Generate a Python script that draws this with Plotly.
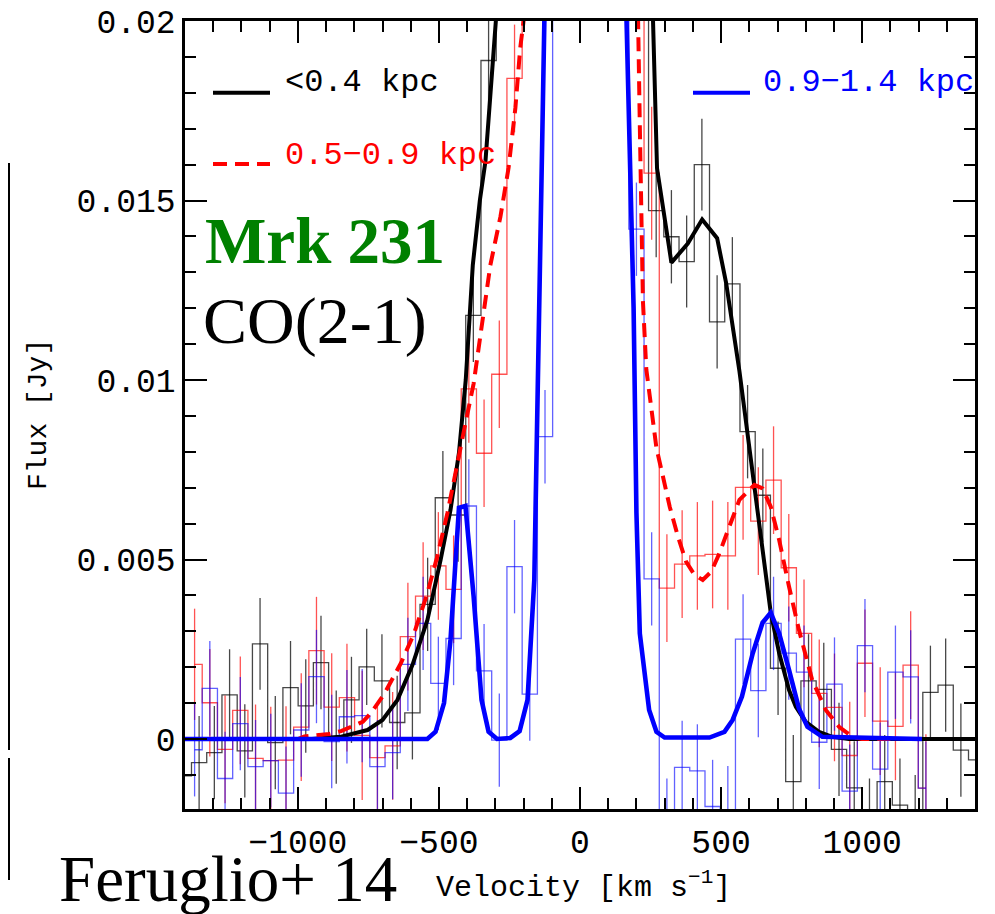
import plotly.graph_objects as go

# ---------------- data (velocity in km/s, flux in mJy) ----------------
vel_black = [-1404, -1350, -1296, -1242, -1188, -1134, -1080, -1026, -972, -918, -864, -810,
             -756, -702, -648, -594, -540, -486, -432, -378, -324, -270, -216, -162, -108, -54,
             0, 54, 108, 162, 216, 270, 324, 378, 432, 486, 540, 594, 648, 702, 756, 810, 864,
             918, 972, 1026, 1080, 1134, 1188, 1242, 1296, 1350, 1404]
flux_black = [-1.03, -0.66, -0.38, 1.23, -0.33, 2.65, -0.10, 1.43, 0.92, 2.13, 0.05, 1.09,
              2.01, 1.62, 0.46, 0.73, 3.75, 6.72, 6.24, 11.8, 18.9, 25.0, 34.0, 44.0, 52.0, 57.0,
              59.0, 56.0, 49.0, 39.0, 27.0, 14.72, 13.99, 13.3, 16.0, 11.62, 12.68, 8.56, 6.79,
              1.97, -1.19, 1.62, 1.38, -0.29, -1.36, -2.4, -1.19, -1.84, -2.3, 1.30, 1.50, -0.31, -0.58]
err_black = [1.3, 1.3, 1.3, 1.27, 1.3, 1.28, 1.3, 1.3, 1.3, 1.3, 1.3, 1.2,
             1.06, 1.3, 1.3, 1.3, 1.3, 1.3, 1.3, 1.3, 1.3, 1.3, 1.3, 1.3, 1.3, 1.3,
             1.3, 1.3, 1.3, 1.3, 1.3, 1.3, 1.3, 1.28, 1.28, 1.3, 1.3, 1.3, 1.3,
             1.3, 1.3, 1.3, 1.3, 1.3, 1.3, 1.3, 1.3, 1.3, 1.3, 1.3, 1.3, 1.3, 1.3]

vel_rb = [-1366, -1312, -1258, -1204, -1150, -1096, -1042, -988, -934, -880, -826, -772,
          -718, -664, -610, -556, -502, -448, -394, -340, -286, -232, -178, -124, -70, -16,
          38, 92, 146, 200, 254, 308, 362, 416, 470, 524, 578, 632, 686, 740, 794, 848, 902,
          956, 1010, 1064, 1118, 1172, 1226]
flux_red = [2.08, 1.01, -0.29, 0.80, -0.54, -0.60, -0.59, 0.33, 2.46, 0.89, 1.15, 0.10,
            -0.52, -0.19, 2.85, 3.98, 4.82, 4.17, 9.75, 7.96, 10.16, 18.4, 26.0, 36.0, 44.0, 48.0,
            47.0, 41.0, 31.0, 22.0, 15.76, 4.2, 4.87, 5.10, 5.14, 5.10, 7.01, 6.07, 7.21, 4.77,
            2.94, 1.27, 0.88, -0.46, 2.11, 0.50, 0.35, 2.06, -1.37]
err_red = [1.55, 1.5, 1.5, 1.5, 1.5, 1.5, 1.5, 1.5, 1.5, 1.5, 1.5, 1.8,
           1.5, 1.5, 1.5, 1.5, 1.5, 1.5, 1.5, 1.5, 1.5, 1.5, 1.5, 1.5, 1.5, 1.5,
           1.5, 1.5, 1.5, 1.5, 1.85, 1.5, 1.5, 1.5, 1.5, 1.5, 1.46, 1.5, 1.5, 1.5,
           1.5, 1.5, 1.5, 1.5, 1.5, 1.5, 1.5, 1.5, 1.5]
flux_blue = [-0.30, 1.41, -1.10, 0.43, -0.77, -0.60, -1.51, 0.25, 1.74, -0.07, 0.62, 0.65,
             -0.77, -0.38, 2.08, 3.22, 1.55, 2.80, 6.49, 1.90, -0.03, 4.80, 1.25, 8.42, 28.0, 40.0,
             42.0, 36.0, 24.0, 14.2, 4.46, -2.4, -0.79, -0.89, -1.88, -2.05, 2.78, 1.35, 3.22,
             2.39, 1.86, -0.09, 1.53, -1.45, 2.60, -0.84, 1.86, 1.73, -1.37]
err_blue = [1.3, 1.32, 1.3, 1.3, 1.3, 1.3, 1.3, 1.3, 1.3, 1.3, 1.3, 1.3,
            1.3, 1.3, 1.3, 1.3, 1.3, 1.3, 1.3, 1.3, 1.3, 1.3, 1.3, 1.3, 1.3, 1.3,
            1.3, 1.3, 1.3, 1.3, 1.3, 1.3, 1.3, 1.3, 1.3, 1.3, 1.25, 1.3, 1.3, 1.3,
            1.3, 1.3, 1.3, 1.3, 1.3, 1.3, 1.3, 1.3, 1.3]

model_black_v = [-1400, -950, -850, -753, -700, -647, -594, -541, -494, -459, -429, -405, -380,
                 -355, -335, -300, -270, -200, 0, 200, 245, 273, 324, 382, 433, 486, 518, 565,
                 612, 647, 676, 706, 741, 765, 800, 847, 894, 953, 1400]
model_black_f = [0, 0, 0.06, 0.25, 0.53, 1.09, 2.06, 3.31, 4.99, 6.38, 7.97, 10.0, 13.2,
                 15.0, 16.1, 20.0, 23.0, 35.0, 60.0, 35.0, 24.0, 15.9, 13.27, 13.8, 14.47, 13.95,
                 12.7, 10.25, 7.4, 5.17, 3.52, 2.39, 1.36, 0.9, 0.48, 0.2, 0.06, 0, 0]

model_red_v = [-1400, -1000, -977, -925, -889, -847, -811, -770, -741, -694, -635, -588, -541,
               -506, -470, -435, -406, -377, -353, -318, -282, -253, -229, -212, -200, -170, 0,
               170, 206, 212, 218, 223, 235, 250, 271, 294, 318, 347, 376, 406, 435, 465, 494,
               529, 565, 618, 647, 676, 706, 741, 776, 823, 871, 918, 965, 1000, 1100]
model_red_f = [0, 0, 0.07, 0.10, 0.14, 0.22, 0.34, 0.48, 0.72, 1.25, 2.11, 2.94, 4.06,
               5.08, 6.29, 7.59, 8.79, 9.9, 11.2, 13.19, 14.55, 15.92, 17.58, 19.24, 20.0, 26.0, 50.0,
               26.0, 20.0, 17.1, 14.16, 12.2, 10.3, 9.3, 8.1, 7.31, 6.47, 5.64, 4.94, 4.57, 4.43,
               4.66, 5.17, 5.91, 6.66, 7.08, 6.98, 6.47, 5.54, 4.24, 3.04, 1.64, 0.81, 0.34, 0.06, 0, 0]

model_blue_v = [-1400, -541, -512, -482, -459, -438, -429, -406, -377, -349, -324, -294, -247,
                -214, -186, -162, -108, 0, 110, 165, 190, 200, 212, 245, 271, 300, 459, 512, 541,
                574, 612, 647, 676, 706, 741, 776, 806, 859, 1212]
model_blue_f = [0, 0, 0.2, 1.0, 2.76, 5.17, 6.44, 6.49, 3.97, 1.09, 0.2, 0, 0.03,
                0.22, 1.09, 4.43, 28.0, 45.0, 28.0, 20.0, 12.0, 6.3, 2.94, 0.81, 0.2, 0.04, 0.04,
                0.2, 0.53, 1.18, 2.38, 3.24, 3.52, 2.94, 1.92, 0.85, 0.34, 0.06, 0]

x_tick_vals = [-1000, -500, 0, 500, 1000]
x_tick_text = ["−1000", "−500", "0", "500", "1000"]
y_tick_vals = [0, 0.005, 0.01, 0.015, 0.02]
y_tick_text = ["0", "0.005", "0.01", "0.015", "0.02"]

TO_JY = 1e-3


def jy(arr):
    return [v * TO_JY for v in arr]


BLACK_T = "rgba(0,0,0,0.72)"
RED_T = "rgba(255,0,0,0.68)"
BLUE_T = "rgba(0,0,255,0.62)"

fig = go.Figure()

for vel, flux, err, col in [(vel_black, flux_black, err_black, BLACK_T),
                            (vel_rb, flux_red, err_red, RED_T),
                            (vel_rb, flux_blue, err_blue, BLUE_T)]:
    fig.add_trace(go.Scatter(
        x=vel, y=jy(flux), mode="lines",
        line=dict(color=col, width=1.3, shape="hvh"),
        error_y=dict(type="data", array=jy(err), visible=True, color=col,
                     thickness=1.3, width=0),
        hoverinfo="skip", showlegend=False))

fig.add_trace(go.Scatter(x=model_black_v, y=jy(model_black_f), mode="lines",
                         line=dict(color="black", width=4), hoverinfo="skip", showlegend=False))
fig.add_trace(go.Scatter(x=model_red_v, y=jy(model_red_f), mode="lines",
                         line=dict(color="#ff0000", width=4, dash="14px,8px"),
                         hoverinfo="skip", showlegend=False))
fig.add_trace(go.Scatter(x=model_blue_v, y=jy(model_blue_f), mode="lines",
                         line=dict(color="#0000ff", width=4.6), hoverinfo="skip", showlegend=False))

# ---------------- layout ----------------
# the page body has an 8px margin, so the figure is drawn 8px to the right / down
OFF = 8
W, H = 995 - OFF, 914 - OFF
L, R, T, B = 185 - OFF, 20, 21 - OFF, 105
PW, PH = W - L - R, H - T - B


def xp(px):  # screen pixel -> paper x
    return (px - OFF - L) / PW


def yp(py):  # screen pixel -> paper y
    return (H - B - (py - OFF)) / PH


mono = "Liberation Mono"
serif = "Liberation Serif"

axis_common = dict(
    ticks="inside", ticklen=22, tickwidth=1.8, tickcolor="black",
    showline=True, linewidth=2.5, linecolor="black", mirror="ticks",
    showgrid=False, zeroline=False, automargin=False,
    tickfont=dict(family=mono, size=33, color="black"),
    tickmode="array", ticklabeloverflow="allow",
)

fig.update_layout(
    width=W, height=H,
    margin=dict(l=L, r=R, t=T, b=B, pad=0),
    paper_bgcolor="white", plot_bgcolor="white",
    showlegend=False,
    xaxis=dict(range=[-1400, 1400], tickvals=x_tick_vals, ticktext=x_tick_text,
               ticklabelstandoff=2,
               minor=dict(tickmode="linear", tick0=0, dtick=100, ticks="inside",
                          ticklen=11, tickwidth=1.5, tickcolor="black", showgrid=False),
               **axis_common),
    yaxis=dict(range=[-0.00195, 0.0200001], tickvals=y_tick_vals, ticktext=y_tick_text,
               ticklabelstandoff=0,
               minor=dict(tickmode="linear", tick0=0, dtick=0.001, ticks="inside",
                          ticklen=11, tickwidth=1.5, tickcolor="black", showgrid=False),
               **axis_common),
)

ann = []
ann.append(dict(x=xp(583), y=yp(885), xref="paper", yref="paper", showarrow=False,
                text="Velocity [km s<sup>−1</sup>]", xanchor="center", yanchor="middle",
                font=dict(family=mono, size=30, color="black")))
ann.append(dict(x=xp(38), y=yp(415), xref="paper", yref="paper", showarrow=False,
                text="Flux [Jy]", textangle=-90, xanchor="center", yanchor="middle",
                font=dict(family=mono, size=28, color="black")))
ann.append(dict(x=xp(203), y=yp(241), xref="paper", yref="paper", showarrow=False,
                text="<b>Mrk 231</b>", xanchor="left", yanchor="middle",
                font=dict(family=serif, size=65, color="#008000")))
ann.append(dict(x=xp(201), y=yp(321), xref="paper", yref="paper", showarrow=False,
                text="CO(2-1)", xanchor="left", yanchor="middle",
                font=dict(family=serif, size=66, color="black")))
ann.append(dict(x=xp(57), y=yp(879), xref="paper", yref="paper", showarrow=False,
                text="Feruglio+ 14", xanchor="left", yanchor="middle",
                font=dict(family=serif, size=65, color="black")))
ann.append(dict(x=xp(283), y=yp(83), xref="paper", yref="paper", showarrow=False,
                text="&lt;0.4 kpc", xanchor="left", yanchor="middle",
                font=dict(family=mono, size=32, color="black")))
ann.append(dict(x=xp(283), y=yp(155), xref="paper", yref="paper", showarrow=False,
                text="0.5−0.9 kpc", xanchor="left", yanchor="middle",
                font=dict(family=mono, size=32, color="#ff0000")))
ann.append(dict(x=xp(761), y=yp(83), xref="paper", yref="paper", showarrow=False,
                text="0.9−1.4 kpc", xanchor="left", yanchor="middle",
                font=dict(family=mono, size=32, color="#0000ff")))
fig.update_layout(annotations=ann)

shapes = [
    dict(type="line", xref="paper", yref="paper", x0=xp(213), x1=xp(270), y0=yp(92.7), y1=yp(92.7),
         line=dict(color="black", width=4)),
    dict(type="line", xref="paper", yref="paper", x0=xp(213), x1=xp(270), y0=yp(164), y1=yp(164),
         line=dict(color="#ff0000", width=4, dash="14px,8px")),
    dict(type="line", xref="paper", yref="paper", x0=xp(693), x1=xp(750), y0=yp(92.7), y1=yp(92.7),
         line=dict(color="#0000ff", width=4)),
    # fragment of the neighbouring panel at the left edge
    dict(type="line", xref="paper", yref="paper", x0=xp(9), x1=xp(9), y0=yp(163), y1=yp(750),
         line=dict(color="black", width=2)),
    dict(type="line", xref="paper", yref="paper", x0=xp(9), x1=xp(9), y0=yp(758), y1=yp(880),
         line=dict(color="black", width=2)),
]
fig.update_layout(shapes=shapes)

fig.write_html("out.html")
